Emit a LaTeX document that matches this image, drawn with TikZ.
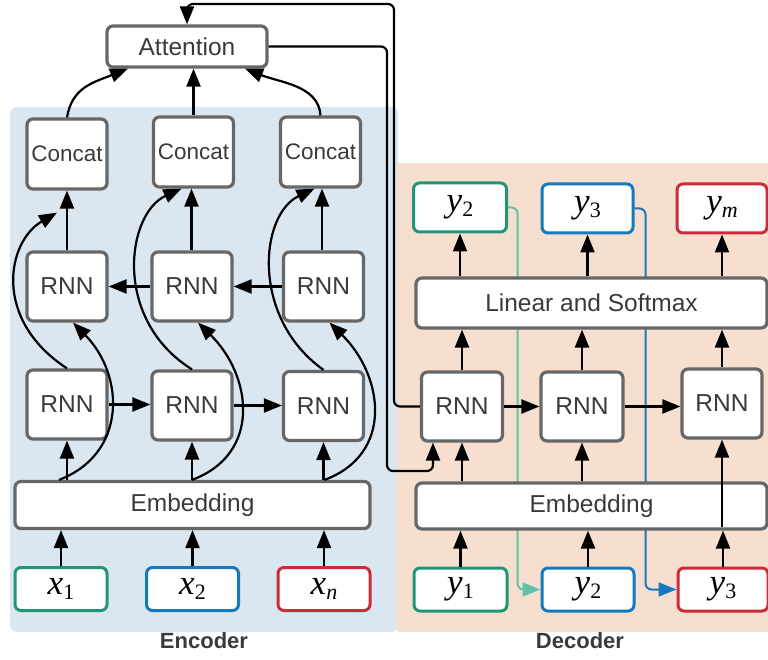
\documentclass[tikz,border=0pt]{standalone}
\usepackage{fontspec}
\setmainfont{Liberation Sans}
\newfontfamily\serifmath{Liberation Serif}
\usetikzlibrary{arrows.meta,calc}

\definecolor{encbg}{HTML}{DAE6F0}
\definecolor{decbg}{HTML}{F7DFD0}
\definecolor{boxgray}{HTML}{676767}
\definecolor{txtgray}{HTML}{3A3A3A}
\definecolor{cgreen}{HTML}{1F967A}
\definecolor{cmint}{HTML}{62C1A6}
\definecolor{cblue}{HTML}{1479BD}
\definecolor{cred}{HTML}{CC2B38}

% token label: italic symbol with a lowered subscript
\newcommand\tok[2]{{\serifmath\itshape #1}\raisebox{-5pt}{\fontsize{22}{22}\selectfont\serifmath #2}}

\tikzset{
  block/.style={draw=boxgray, line width=3.2pt, fill=white, rounded corners=6pt,
    text=txtgray, font=\fontsize{24.5}{28}\selectfont, inner sep=0pt},
  catbox/.style={block, font=\fontsize{22.5}{26}\selectfont,
    minimum width=80pt, minimum height=70pt},
  rnnbox/.style={block, minimum width=80pt, minimum height=69pt},
  tokbox/.style={draw=#1, line width=3pt, fill=white, rounded corners=6pt,
    text=black, font=\fontsize{35}{35}\selectfont, inner sep=0pt,
    minimum width=92pt, minimum height=43pt},
  outbox/.style={tokbox=#1, minimum height=49pt},
  arr/.style={-{Triangle[length=18pt,width=14pt]}, line width=2.2pt, black},
  feed/.style={-{Triangle[length=18pt,width=14pt]}, line width=2pt, rounded corners=6pt},
  panelname/.style={text=txtgray, font=\bfseries\fontsize{22}{24}\selectfont}
}

\begin{document}
\begin{tikzpicture}[x=1pt, y=-1pt]
\useasboundingbox (0,0) rectangle (768,660);

% panels
\fill[encbg, rounded corners=7pt] (10,107) rectangle (398,632);
\fill[decbg] (397,163) rectangle (768,632);
\node[panelname] (enclabel) at (204,641) {Encoder};
\node[panelname] (declabel) at (580,641) {Decoder};

% ---------- encoder ----------
\node[block, minimum width=160pt, minimum height=41pt] (att) at (187,46.5) {Attention};

\node[catbox] (cat1) at (67,154) {Concat};
\node[catbox] (cat2) at (193.5,152) {Concat};
\node[catbox] (cat3) at (320.5,152) {Concat};

\node[rnnbox] (er1) at (67,286.5) {RNN};
\node[rnnbox] (er2) at (192,286.5) {RNN};
\node[rnnbox] (er3) at (323.5,286.5) {RNN};

\node[rnnbox] (eb1) at (67,404.5) {RNN};
\node[rnnbox] (eb2) at (192,405.5) {RNN};
\node[rnnbox] (eb3) at (323.5,406) {RNN};

\node[block, minimum width=355pt, minimum height=47pt] (eemb) at (192.5,505) {Embedding};

\node[tokbox=cgreen] (x1) at (61,589) {\tok{x}{1}};
\node[tokbox=cblue]  (x2) at (192.5,589) {\tok{x}{2}};
\node[tokbox=cred]   (xn) at (324,589) {\tok{x}{\itshape n}};

% ---------- decoder ----------
\node[outbox=cgreen, minimum width=93pt] (ot2) at (460,207.5) {\tok{y}{2}};
\node[outbox=cblue, minimum width=91pt] (ot3) at (587.5,208.5) {\tok{y}{3}};
\node[outbox=cred, minimum width=90pt] (otm) at (722,208.5) {\tok{y}{\itshape m}};

\node[tokbox=cgreen, minimum width=93pt] (in1) at (460.5,589.5) {\tok{y}{1}};
\node[tokbox=cblue] (in2) at (588,589.5) {\tok{y}{2}};
\node[tokbox=cred, minimum width=90pt] (in3) at (723,589.5) {\tok{y}{3}};

% teacher forcing feedback lines (under the boxes)
\draw[feed, cmint] (ot2.east) -| ($(in2.west)+(-23,0)$) -- (in2.west);
\draw[feed, cblue] (ot3.east) -| ($(in3.west)+(-31,0)$) -- (in3.west);

\node[block, minimum width=351pt, minimum height=50pt] (lin) at (591.5,303) {Linear and Softmax};

\node[rnnbox, minimum width=81pt] (dr1) at (462,406.5) {RNN};
\node[rnnbox, minimum width=82pt] (dr2) at (582,406.5) {RNN};
\node[rnnbox] (dr3) at (722,403.5) {RNN};

\node[block, minimum width=351pt, minimum height=46pt] (demb) at (591.5,506) {Embedding};

% ---------- encoder connectors ----------
\foreach \t in {x1,x2,xn} \draw[arr] (\t.north) -- (\t.north |- eemb.south);
\foreach \r in {eb1,eb2,eb3} \draw[arr] (eemb.north -| \r.south) -- (\r.south);

% skip connections: embedding to upper RNN
\draw[arr] ([xshift=-8pt]eemb.north -| eb1.south) .. controls +(68,-26) and +(52,53) .. ([xshift=6pt]er1.south);
\draw[arr] (eemb.north -| eb2.south) .. controls +(70,-26) and +(54,53) .. ([xshift=6pt]er2.south);
\draw[arr] ([xshift=1pt]eemb.north -| eb3.south) .. controls +(70,-26) and +(54,53) .. ([xshift=6pt]er3.south);

% skip connections: lower RNN to concat
\draw[arr] (eb1.north) .. controls +(-75,-49) and +(-50,29) .. ([shift={(-10,22)}]cat1.south);
\draw[arr] (eb2.north) .. controls +(-80,-50) and +(-55,25) .. ([xshift=-12pt]cat2.south);
\draw[arr] (eb3.north) .. controls +(-73,-52) and +(-55,26) .. ([xshift=-6pt]cat3.south);

% recurrences
\draw[arr] (eb1.east) -- (eb1.east -| eb2.west);
\draw[arr] (eb2.east) -- (eb2.east -| eb3.west);
\draw[arr] (er3.west) -- (er3.west -| er2.east);
\draw[arr] (er2.west) -- (er2.west -| er1.east);

% upper RNN to concat, kept vertical
\draw[arr] (er1.north) -- (cat1.south);
\draw[arr] ([xshift=-0.5pt]er2.north) -- ([xshift=-0.5pt]er2.north |- cat2.south);
\draw[arr] ([xshift=-1.5pt]er3.north) -- ([xshift=-1.5pt]er3.north |- cat3.south);

% concat to attention
\draw[arr] (cat1.north) .. controls +(5,-30) and +(-35,14) .. ([xshift=-59pt]att.south);
\draw[arr] (cat2.north) -- (cat2.north |- att.south);
\draw[arr] (cat3.north) .. controls +(-2,-30) and +(35,14) .. ([xshift=58pt]att.south);

% ---------- attention <-> decoder ----------
\coordinate (qturn) at (394,4);
\coordinate (cturn) at (387,471);
\draw[arr, rounded corners=6pt] (dr1.west) -| (qturn) -| (att.north);
\draw[arr, rounded corners=6pt] (att.east) -| (cturn) -| ([xshift=-29pt]dr1.south);

% ---------- decoder connectors ----------
\foreach \t in {in1,in2,in3} \draw[arr] (\t.north) -- (\t.north |- demb.south);
\draw[arr] (demb.north -| dr1.south) -- (dr1.south);
\draw[arr] (demb.north -| dr2.south) -- (dr2.south);
\coordinate (lastin) at ($(demb.south -| dr3.south)+(0,-4)$);
\draw[arr] (lastin) -- (dr3.south);

\draw[arr] (dr1.east) -- (dr1.east -| dr2.west);
\draw[arr] (dr2.east) -- (dr2.east -| dr3.west);

\foreach \r in {dr1,dr2,dr3} \draw[arr] (\r.north) -- (\r.north |- lin.south);
\draw[arr] (lin.north -| ot2.south) -- (ot2.south);
\draw[arr] (lin.north -| ot3.south) -- (ot3.south);
\draw[arr] (lin.north -| otm.south) -- (otm.south);
\end{tikzpicture}
\end{document}
